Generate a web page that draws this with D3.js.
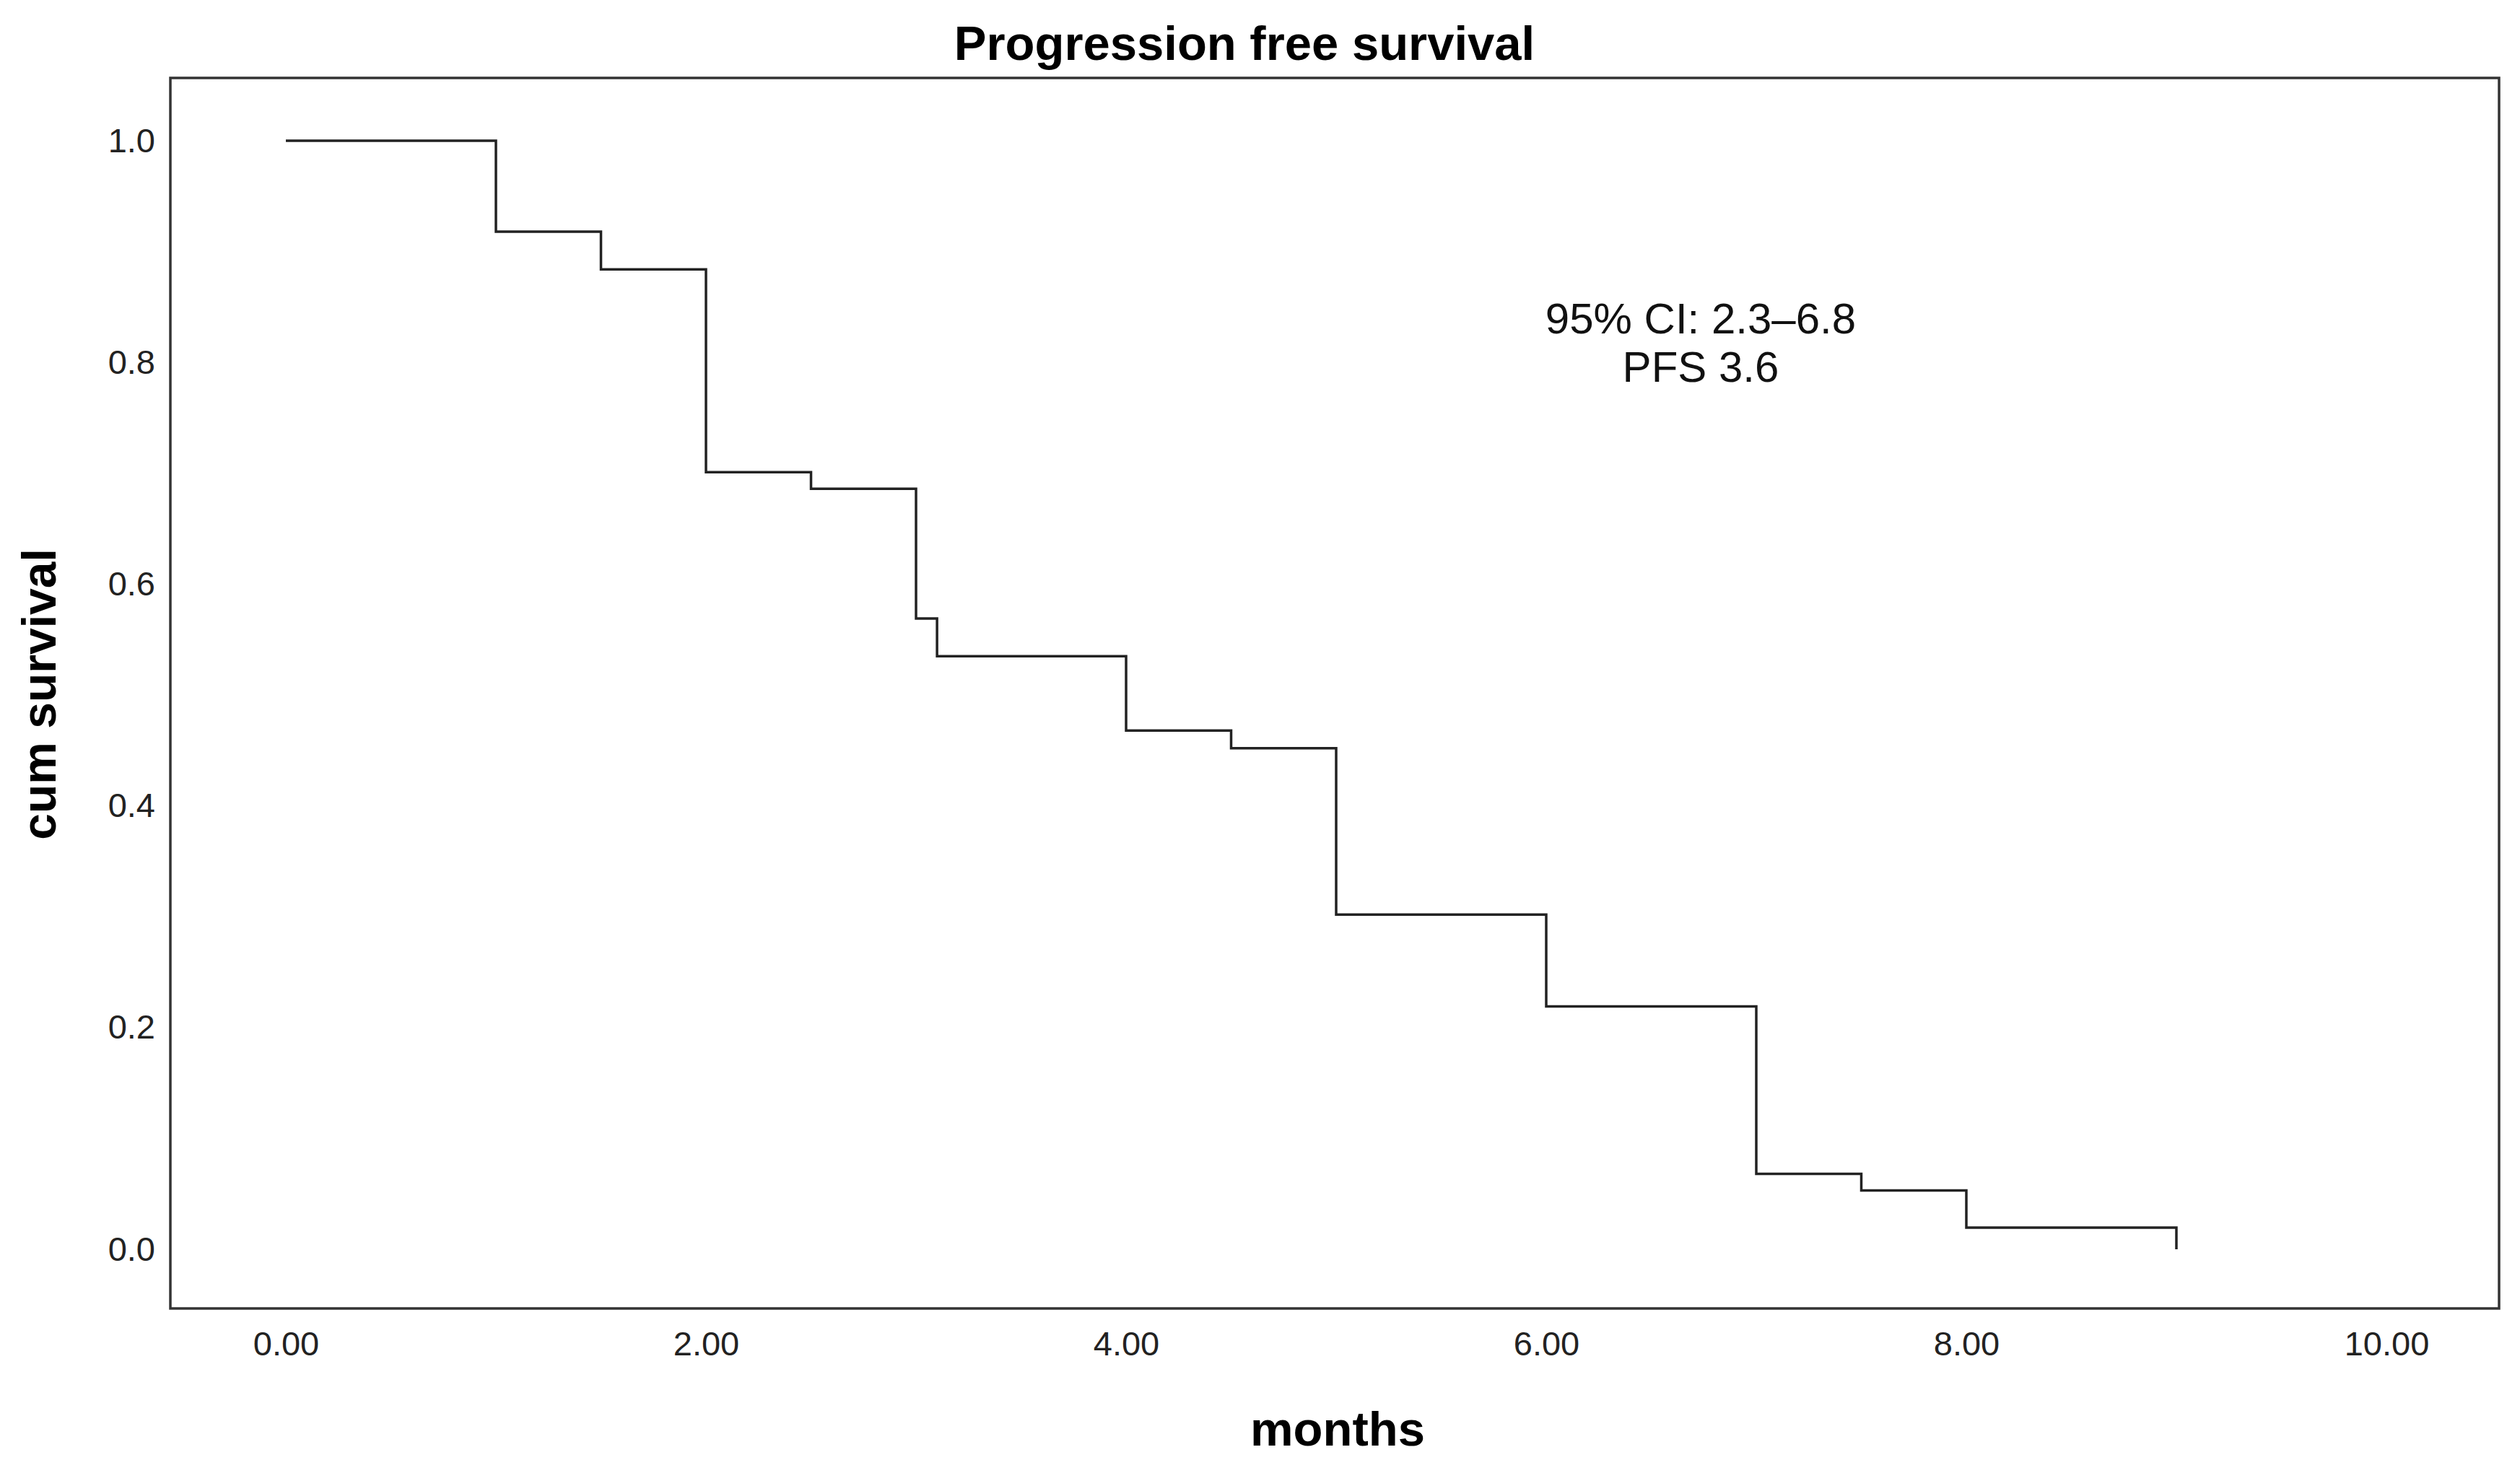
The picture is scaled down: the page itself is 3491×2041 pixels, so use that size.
<!DOCTYPE html>
<html>
<head>
<meta charset="utf-8">
<script src="https://cdn.jsdelivr.net/npm/d3@7"></script>
<style>
  html, body { margin: 0; padding: 0; background: #fff; }
  svg { display: block; }
  text { font-family: "Liberation Sans", Arial, sans-serif; }
</style>
</head>
<body>
<script>
// ---- data (Kaplan-Meier steps) ----
const months = [0, 1, 1.5, 2, 2.5, 3, 3.1, 4, 4.5, 5, 6, 7, 7.5, 8, 9];
const cumSurvival = [1.0, 0.918, 0.884, 0.701, 0.686, 0.569, 0.535, 0.468, 0.452, 0.302, 0.219, 0.068, 0.053, 0.0195, 0.0];
const xTicks = [0, 2, 4, 6, 8, 10];
const yTicks = [0, 0.2, 0.4, 0.6, 0.8, 1.0];
const chartTitle = "Progression free survival";
const xTitle = "months";
const yTitle = "cum survival";
const annotationLines = ["95% CI: 2.3\u20136.8", "PFS 3.6"];

// ---- layout ----
const W = 3491, H = 2041;
const frame = { left: 236, right: 3462, top: 108, bottom: 1813 };

const svg = d3.select("body").append("svg")
  .attr("width", W).attr("height", H);

const x = d3.scaleLinear().domain([0, 10]).range([396, 3306]);
const y = d3.scaleLinear().domain([0, 1]).range([1731, 195]);

// frame
svg.append("rect")
  .attr("x", frame.left).attr("y", frame.top)
  .attr("width", frame.right - frame.left)
  .attr("height", frame.bottom - frame.top)
  .attr("fill", "none")
  .attr("stroke", "#333")
  .attr("stroke-width", 3.5);

// y axis
const yAxis = svg.append("g")
  .attr("transform", `translate(${frame.left},0)`)
  .call(d3.axisLeft(y).tickValues(yTicks).tickFormat(d3.format(".1f")).tickSize(0).tickPadding(21));
yAxis.select(".domain").remove();
yAxis.selectAll("text")
  .attr("font-size", 47)
  .attr("font-family", "Liberation Sans, Arial, sans-serif")
  .attr("fill", "#222");

// x axis
const xAxis = svg.append("g")
  .attr("transform", `translate(0,${frame.bottom})`)
  .call(d3.axisBottom(x).tickValues(xTicks).tickFormat(d3.format(".2f")).tickSize(0).tickPadding(32));
xAxis.select(".domain").remove();
xAxis.selectAll("text")
  .attr("font-size", 47)
  .attr("font-family", "Liberation Sans, Arial, sans-serif")
  .attr("fill", "#222");

// KM step line
const pts = months.map((m, i) => [m, cumSurvival[i]]);
const line = d3.line()
  .x(d => x(d[0]))
  .y(d => y(d[1]))
  .curve(d3.curveStepAfter);
svg.append("path")
  .datum(pts)
  .attr("d", line)
  .attr("fill", "none")
  .attr("stroke", "#222")
  .attr("stroke-width", 3.5);

// titles
svg.append("text")
  .attr("x", 1724).attr("y", 83)
  .attr("text-anchor", "middle")
  .attr("font-size", 67).attr("font-weight", "bold")
  .attr("fill", "#000")
  .text(chartTitle);

svg.append("text")
  .attr("x", 1853).attr("y", 2003)
  .attr("text-anchor", "middle")
  .attr("font-size", 67).attr("font-weight", "bold")
  .attr("fill", "#000")
  .text(xTitle);

svg.append("text")
  .attr("transform", "translate(77,962) rotate(-90)")
  .attr("text-anchor", "middle")
  .attr("font-size", 66).attr("font-weight", "bold")
  .attr("fill", "#000")
  .text(yTitle);

// annotation
svg.append("g").selectAll("text")
  .data(annotationLines)
  .join("text")
  .attr("x", 2356)
  .attr("y", (d, i) => 462 + i * 67)
  .attr("text-anchor", "middle")
  .attr("font-size", 60)
  .attr("fill", "#111")
  .text(d => d);
</script>
</body>
</html>
